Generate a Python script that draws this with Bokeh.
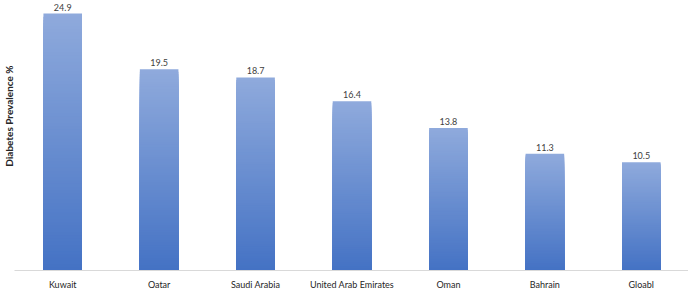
import numpy as np
from bokeh.plotting import figure
from bokeh.models import ColumnDataSource, Title
from bokeh.core.properties import value
from bokeh.embed import file_html
from bokeh.resources import INLINE

# Diabetes prevalence (%) by country
countries = ["Kuwait", "Qatar", "Saudi Arabia", "United Arab Emirates", "Oman", "Bahrain", "Gloabl"]
prevalence = [24.9, 19.5, 18.7, 16.4, 13.8, 11.3, 10.5]
value_labels = ["24.9", "19.5", "18.7", "16.4", "13.8", "11.3", "10.5"]

FONT = "Lato"
TOP_RGB = np.array([143, 170, 220])   # light blue at the top of each bar
BOTTOM_RGB = np.array([68, 114, 196])  # deeper blue at the base
N_STEPS = 80

p = figure(
    x_range=countries,
    y_range=(0, 26.16),
    frame_width=675,
    frame_height=270,
    min_border_left=0,
    min_border_right=0,
    min_border_top=0,
    min_border_bottom=0,
    output_backend="svg",
    toolbar_location=None,
)

# Vertical gradient fill: nested bars from full height down, each a bit darker,
# so every band of a bar shows the colour for its height fraction
xs, tops, colors = [], [], []
for i in range(N_STEPS, 0, -1):
    f = i / N_STEPS
    t = (i - 0.5) / N_STEPS
    rgb = BOTTOM_RGB + (TOP_RGB - BOTTOM_RGB) * t
    col = "#%02x%02x%02x" % tuple(int(round(c)) for c in rgb)
    for name, v in zip(countries, prevalence):
        xs.append(name)
        tops.append(v * f)
        colors.append(col)

slices = ColumnDataSource(dict(x=xs, top=tops, color=colors))
p.vbar(x="x", bottom=0, top="top", width=0.4, source=slices,
       fill_color="color", line_color=None)

labels = ColumnDataSource(dict(x=countries, y=prevalence, text=value_labels))
p.text(x="x", y="y", text="text", source=labels, y_offset=-3,
       text_align="center", text_baseline="bottom",
       text_font=value(FONT), text_font_size="9px", text_color="#404040")

p.xaxis.axis_line_color = "#d9d9d9"
p.xaxis.axis_line_width = 1
p.xaxis.major_tick_line_color = None
p.xaxis.minor_tick_line_color = None
p.xaxis.major_tick_out = 0
p.xaxis.major_tick_in = 0
p.xaxis.major_label_standoff = 8
p.xaxis.major_label_text_font = FONT
p.xaxis.major_label_text_font_size = "9px"
p.xaxis.major_label_text_color = "#262626"
p.yaxis.visible = False

p.xgrid.grid_line_color = None
p.ygrid.grid_line_color = None
p.outline_line_color = None
p.x_range.range_padding = 0

p.add_layout(Title(
    text="Diabetes Prevalence %", align="right", offset=65, standoff=0,
    text_font=FONT, text_font_style="bold", text_font_size="10px",
    text_color="#262626",
), "left")

open("out.html", "w").write(file_html(p, INLINE))
